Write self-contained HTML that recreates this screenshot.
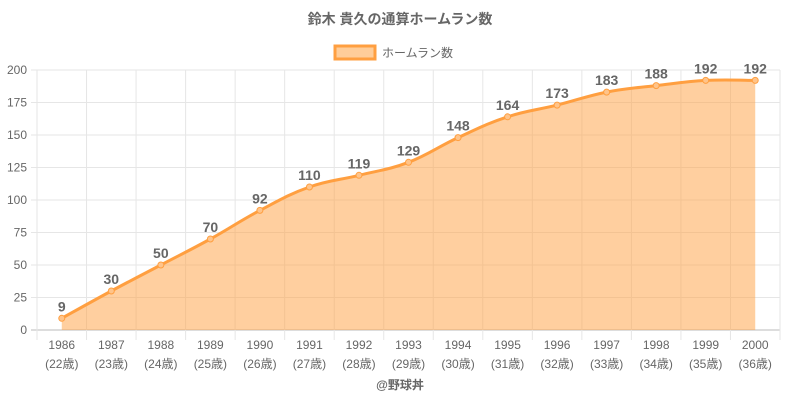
<!DOCTYPE html>
<html><head><meta charset="utf-8"><style>
body{margin:0;background:#fff;width:800px;height:400px;overflow:hidden}
svg text{font-family:"Liberation Sans","Noto Sans CJK JP",sans-serif}
</style></head><body>
<svg id="c" width="800" height="400" xmlns="http://www.w3.org/2000/svg">
<text x="400" y="24" text-anchor="middle" font-size="14" font-weight="bold" fill="#666">鈴木 貴久の通算ホームラン数</text>
<rect x="335" y="46" width="40" height="13" fill="#ffcd99" stroke="#ff9f40" stroke-width="3"/>
<text x="382" y="57" font-size="12" fill="#666">ホームラン数</text>
<text x="400" y="389" text-anchor="middle" font-size="12" font-weight="bold" fill="#666">@野球丼</text>
<g id="g"></g>
</svg>
<script>
const d=[9,30,50,70,92,110,119,129,148,164,173,183,188,192,192];
const L=37,R=780,T=70,B=330,W=(R-L)/15;
const X=i=>L+W*(i+0.5),Y=v=>B-v*(B-T)/200;
let s='';
for(let v=0;v<=200;v+=25){const y=Y(v);s+=`<line x1="${L-6}" x2="${R}" y1="${y}" y2="${y}" stroke="${v==0?'#bbb':'#e6e6e6'}"/>`;s+=`<text x="${L-10}" y="${y+4}" text-anchor="end" font-size="12" fill="#666">${v}</text>`;}
for(let i=0;i<=15;i++){const x=L+W*i;s+=`<line x1="${x}" x2="${x}" y1="${T}" y2="${B+10}" stroke="#e6e6e6"/>`;}
for(let i=0;i<15;i++){s+=`<text x="${X(i)}" y="${B+19}" text-anchor="middle" font-size="12" fill="#666">${1986+i}</text><text x="${X(i)}" y="${B+38}" text-anchor="middle" font-size="12" fill="#666">(${22+i}歳)</text>`;}
const p=d.map((v,i)=>[X(i),Y(v)]);
let path=`M${p[0][0]},${p[0][1]}`;const t=0.2;
for(let i=0;i<p.length-1;i++){const p0=p[i-1]||p[i],p1=p[i],p2=p[i+1],p3=p[i+2]||p2;
const c1=[p1[0]+(p2[0]-p0[0])*t,p1[1]+(p2[1]-p0[1])*t],c2=[p2[0]-(p3[0]-p1[0])*t,p2[1]-(p3[1]-p1[1])*t];
path+=`C${c1[0]},${c1[1]} ${c2[0]},${c2[1]} ${p2[0]},${p2[1]}`;}
s+=`<path d="${path}L${p[14][0]},${B}L${p[0][0]},${B}Z" fill="rgba(255,159,64,0.5)"/>`;
s+=`<path d="${path}" fill="none" stroke="#ff9f40" stroke-width="3"/>`;
p.forEach((q,i)=>{s+=`<circle cx="${q[0]}" cy="${q[1]}" r="3" fill="#ffc48a" stroke="#ff9f40"/>`;s+=`<text x="${q[0]}" y="${q[1]-7}" text-anchor="middle" font-size="14" font-weight="bold" fill="#666">${d[i]}</text>`;});
document.getElementById('g').innerHTML=s;
</script>
</body></html>
